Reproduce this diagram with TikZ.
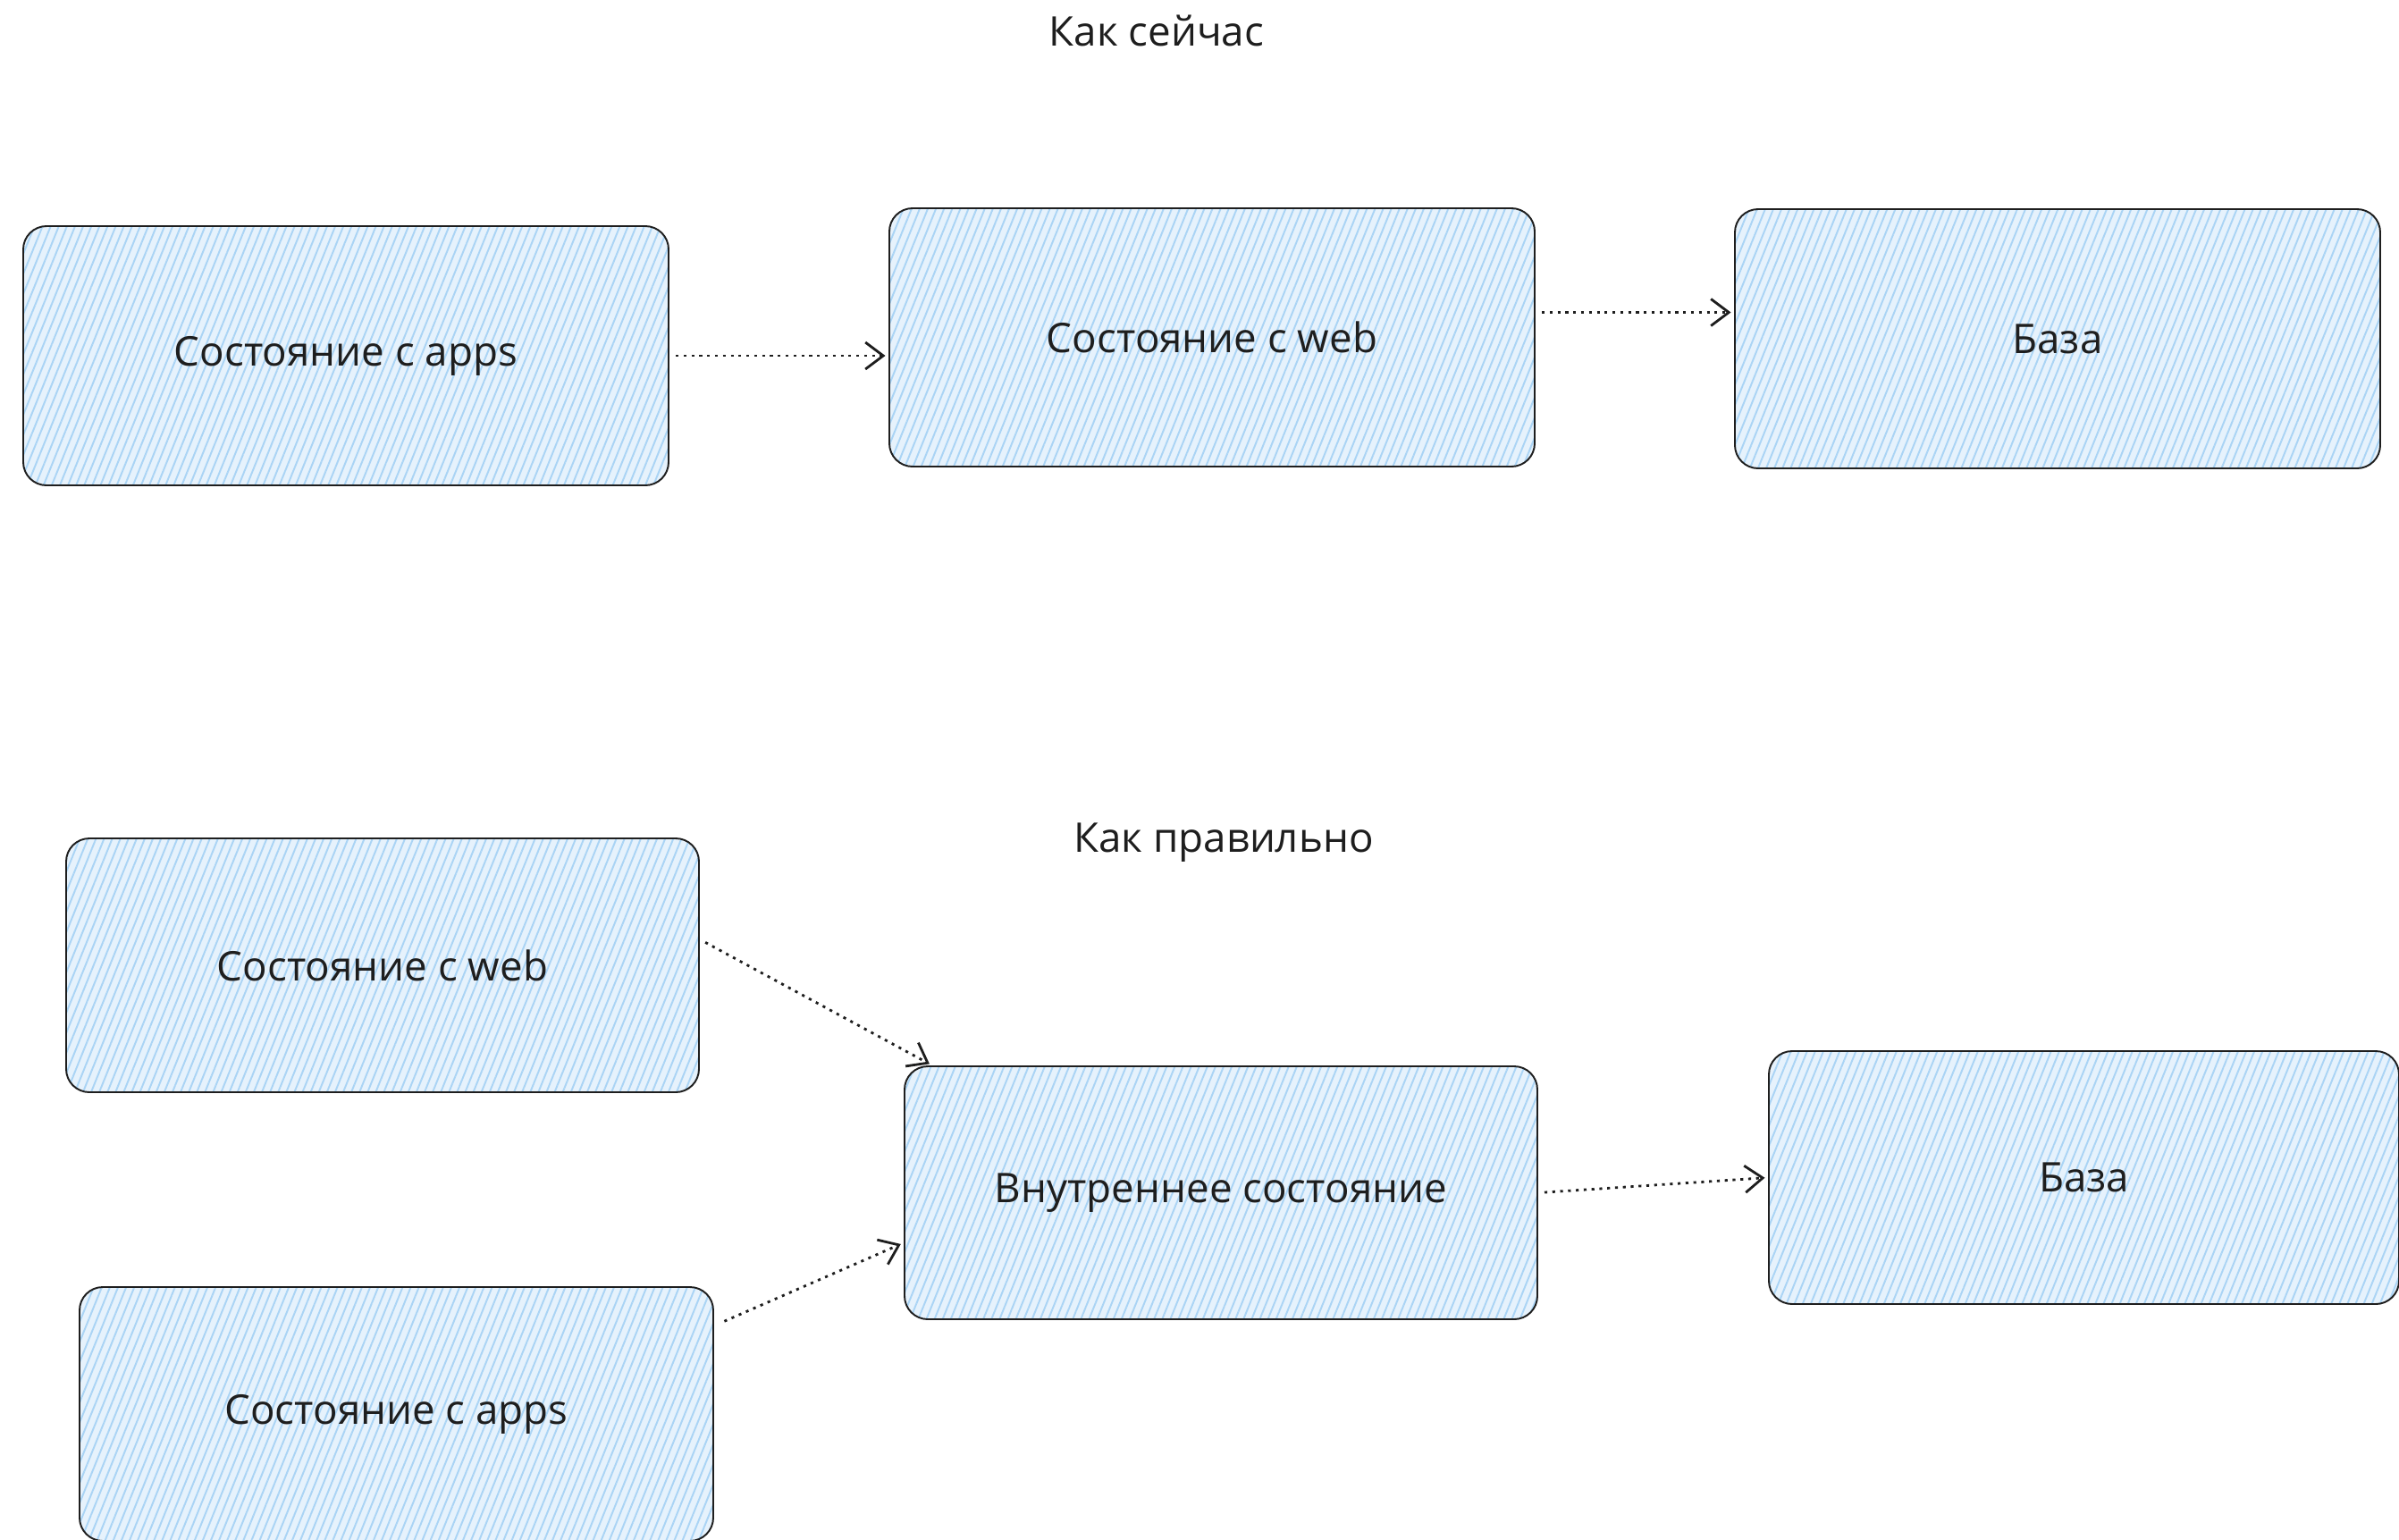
\documentclass[tikz,border=0pt]{standalone}
\usepackage{fontspec}
\setmainfont{Open Sans}
\usetikzlibrary{arrows.meta,patterns.meta}
\definecolor{ink}{RGB}{30,30,30}
\definecolor{pale}{RGB}{230,242,252}
\definecolor{hach}{RGB}{170,212,245}

\begin{document}
\begin{tikzpicture}[
  st/.style={draw=ink,line width=0.55pt,rounded corners=0.26cm,
    preaction={fill=pale},pattern={Lines[angle=68,distance=2.4pt,line width=0.55pt]},pattern color=hach,
    inner sep=0,text=ink,font=\fontsize{13}{15}\selectfont},
  hd/.style={text=ink,font=\fontsize{13}{15}\selectfont},
  fl/.style={draw=ink,line width=0.8pt,dash pattern=on 0.9pt off 1.6pt,
    -{Straight Barb[length=2mm,width=3mm]},shorten <=2pt,shorten >=1pt}]
 \useasboundingbox (0,0) rectangle (26.84,-17.22);
 % now
 \node[hd] (t1) at (12.94,-0.34) {Как сейчас};
 \node[st,minimum width=7.22cm,minimum height=2.90cm] (s1) at (3.87,-3.98) {Состояние с apps};
 \node[st,minimum width=7.22cm,minimum height=2.89cm] (s2) at (13.56,-3.775) {Состояние с web};
 \node[st,minimum width=7.22cm,minimum height=2.90cm] (s3) at (23.02,-3.79) {База};
 \draw[fl] (s1.east) -- (s1.east -| s2.west);
 \draw[fl] ([yshift=0.28cm]s2.east) -- ([yshift=0.28cm]s2.east -| s3.west);
 % right way
 \node[hd] (t2) at (13.69,-9.43) {Как правильно};
 \node[st,minimum width=7.08cm,minimum height=2.84cm] (w2) at (4.28,-10.80) {Состояние с web};
 \node[st,minimum width=7.09cm,minimum height=2.84cm] (a2) at (4.435,-15.82) {Состояние с apps};
 \node[st,minimum width=7.08cm,minimum height=2.83cm] (in) at (13.66,-13.345) {Внутреннее состояние};
 \node[st,minimum width=7.05cm,minimum height=2.83cm] (b2) at (23.315,-13.175) {База};
 \draw[fl] ([yshift=0.29cm]w2.east) -- ([xshift=0.32cm]in.north west);
 \draw[fl] ([yshift=-0.42cm,xshift=0.05cm]a2.north east) -- ([yshift=-0.56cm]in.west);
 \draw[fl] (in.east) -- (b2.west);
\end{tikzpicture}
\end{document}
